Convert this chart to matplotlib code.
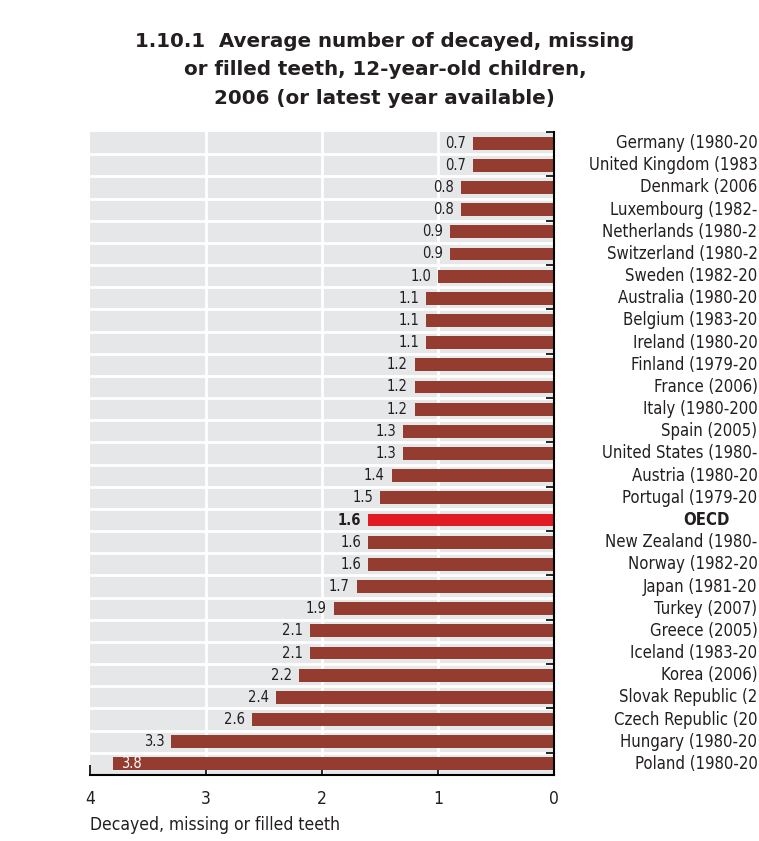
import matplotlib.pyplot as plt
import numpy as np

# data (top to bottom); country labels as far as they show in the source
paises = ["Germany (1980-20", "United Kingdom (1983", "Denmark (2006",
          "Luxembourg (1982-", "Netherlands (1980-2", "Switzerland (1980-2",
          "Sweden (1982-20", "Australia (1980-20", "Belgium (1983-20",
          "Ireland (1980-20", "Finland (1979-20", "France (2006)",
          "Italy (1980-200", "Spain (2005)", "United States (1980-",
          "Austria (1980-20", "Portugal (1979-20", "OECD",
          "New Zealand (1980-", "Norway (1982-20", "Japan (1981-20",
          "Turkey (2007)", "Greece (2005)", "Iceland (1983-20", "Korea (2006)",
          "Slovak Republic (2", "Czech Republic (20", "Hungary (1980-20",
          "Poland (1980-20"]
valores = [0.7, 0.7, 0.8, 0.8, 0.9, 0.9, 1.0, 1.1, 1.1, 1.1, 1.2, 1.2, 1.2, 1.3, 1.3,
           1.4, 1.5, 1.6, 1.6, 1.6, 1.7, 1.9, 2.1, 2.1, 2.2, 2.4, 2.6, 3.3, 3.8]
xticks = [4, 3, 2, 1, 0]

color_barra = "#953c30"
color_oecd = "#e01b24"
color_fondo = "#e6e7e9"
color_texto = "#231f20"
narrow = dict(family="DejaVu Sans", stretch="condensed")

fig = plt.figure(figsize=(7.59, 8.41), dpi=100)
ax = fig.add_axes([90 / 759, 66 / 841, 464 / 759, 643 / 841])
ax.set_facecolor(color_fondo)

n = len(paises)
y = np.arange(n)
colores = [color_oecd if p == "OECD" else color_barra for p in paises]
ax.barh(y, valores, height=0.58, color=colores, zorder=3)

ax.set_xlim(4, 0)
ax.set_ylim(n - 0.5, -0.5)

# white grid
for x in [1, 2, 3]:
    ax.axvline(x, color="white", lw=2, zorder=1)
for b in np.arange(0.5, n - 0.5, 1):
    ax.axhline(b, color="white", lw=2, zorder=1)

# value labels
for i, (p, v) in enumerate(zip(paises, valores)):
    peso = "bold" if p == "OECD" else "normal"
    if v >= 3.5:
        ax.annotate(f"{v:.1f}", (v, i), xytext=(6, 0), textcoords="offset points",
                    ha="left", va="center", color="white", fontsize=10.5,
                    zorder=4, **narrow)
    else:
        ax.annotate(f"{v:.1f}", (v, i), xytext=(-5, 0), textcoords="offset points",
                    ha="right", va="center", color=color_texto, fontsize=10.5,
                    fontweight=peso, zorder=4, **narrow)

# country labels to the right of the axes (cut at the page edge in the source)
for i, p in enumerate(paises):
    yf = ax.transData.transform((0, i))[1] / fig.bbox.height
    if p == "OECD":
        fig.text(706 / 759, yf, p, ha="center", va="center", fontsize=12,
                 fontweight="bold", color=color_texto, **narrow)
    else:
        fig.text(757.5 / 759, yf, p, ha="right", va="center", fontsize=12,
                 color=color_texto, **narrow)

# spines and ticks
for s in ["top", "left"]:
    ax.spines[s].set_visible(False)
for s in ["bottom", "right"]:
    ax.spines[s].set_linewidth(1.5)
    ax.spines[s].set_color("black")
    ax.spines[s].set_zorder(5)

ax.set_xticks(xticks)
ax.set_xticklabels([str(t) for t in xticks], fontsize=12.5, color=color_texto, **narrow)
ax.tick_params(axis="x", direction="in", length=7, width=1.2, pad=11)
ax.yaxis.tick_right()
ax.set_yticks(np.arange(-0.5, n - 0.5, 2))
ax.set_yticklabels([])
ax.tick_params(axis="y", direction="in", length=6, width=1.2)

fig.text(90 / 759, 1 - 825 / 841, "Decayed, missing or filled teeth", ha="left",
         va="center", fontsize=12.5, color=color_texto, **narrow)

fig.text(0.507, 1 - 32 / 841,
         "1.10.1  Average number of decayed, missing\nor filled teeth, 12-year-old children,\n2006 (or latest year available)",
         ha="center", va="top", fontsize=14.3, fontweight="bold", color=color_texto,
         family="DejaVu Sans", linespacing=1.62)

fig.savefig("out.png", dpi=100)
